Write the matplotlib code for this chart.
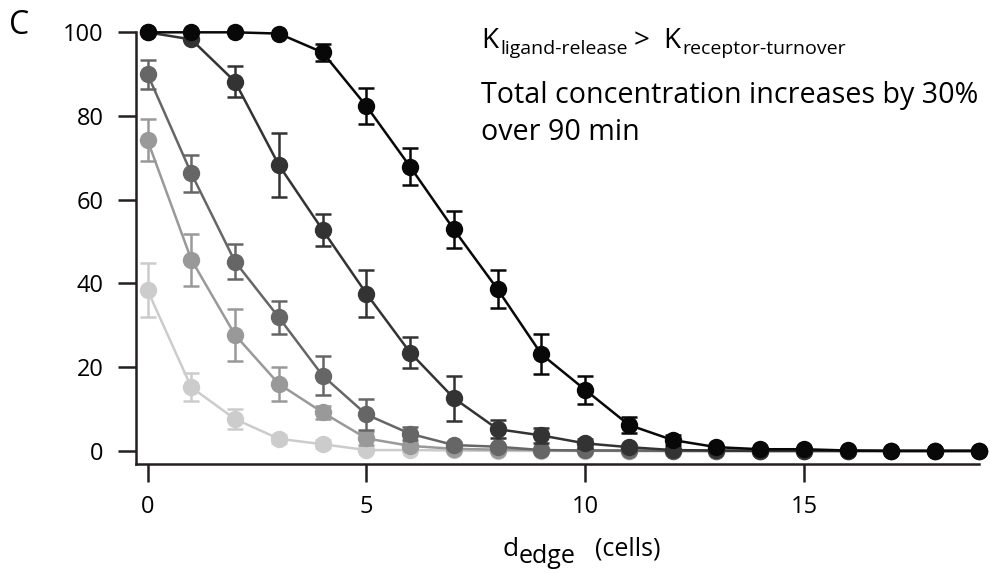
import numpy as np
import matplotlib
matplotlib.use('Agg')
import matplotlib.pyplot as plt

plt.rcParams['font.family'] = ['Open Sans', 'DejaVu Sans']

# distance from edge (cells)
d_edge = list(range(20))

# one series per condition, dark to light
black = [100, 100, 100, 99.7, 95.2, 82.4, 67.9, 52.9, 38.6, 23.1, 14.6, 6.2, 2.6, 0.9, 0.4, 0.4, 0.1, 0, 0, 0]
black_err = [0, 0, 0, 0, 2.0, 4.4, 4.4, 4.5, 4.5, 4.8, 3.3, 2.0, 1.3, 0, 0, 0, 0, 0, 0, 0]
dark = [100, 98.3, 88.2, 68.3, 52.8, 37.6, 23.5, 12.6, 5.2, 3.7, 1.8, 0.9, 0.2, 0.1, 0, 0, 0, 0, 0, 0]
dark_err = [0, 0, 3.7, 7.7, 3.9, 5.6, 3.8, 5.4, 2.2, 1.8, 1.0, 0.5, 0, 0, 0, 0, 0, 0, 0, 0]
mid = [90.0, 66.3, 45.2, 31.9, 18.0, 8.7, 4.1, 1.4, 1.0, 0.2, 0.1, 0.1, 0, 0, 0, 0, 0, 0, 0, 0]
mid_err = [3.5, 4.5, 4.2, 3.9, 4.6, 3.6, 1.5, 0.8, 0.5, 0, 0, 0, 0, 0, 0, 0, 0, 0, 0, 0]
light = [74.2, 45.7, 27.7, 16.0, 9.2, 3.0, 1.2, 0.5, 0.3, 0.2, 0.1, 0, 0, 0, 0, 0, 0, 0, 0, 0]
light_err = [5.0, 6.2, 6.3, 4.0, 1.5, 1.5, 0.8, 0, 0, 0, 0, 0, 0, 0, 0, 0, 0, 0, 0, 0]
lightest = [38.4, 15.2, 7.6, 2.9, 1.6, 0.2, 0.2, 0.1, 0, 0, 0, 0, 0, 0, 0, 0, 0, 0, 0, 0]
lightest_err = [6.4, 3.3, 2.3, 1.0, 1.0, 0, 0, 0, 0, 0, 0, 0, 0, 0, 0, 0, 0, 0, 0, 0]

series = [(lightest, lightest_err, '#cccccc'),
          (light, light_err, '#999999'),
          (mid, mid_err, '#666666'),
          (dark, dark_err, '#333333'),
          (black, black_err, '#080808')]

fig = plt.figure(figsize=(9.9, 5.74), dpi=100)
ax = fig.add_axes([0.1371, 0.1911, 0.9889 - 0.1371, 0.9437 - 0.1911])

x = np.array(d_edge)
for vals, errs, col in series:
    vals = np.array(vals, dtype=float)
    errs = np.array(errs, dtype=float)
    has_err = errs > 0
    ax.errorbar(x[has_err], vals[has_err], yerr=errs[has_err], fmt='none',
                ecolor=col, elinewidth=1.8, capsize=5.8, capthick=1.8, clip_on=False)
    ax.plot(x, vals, '-o', color=col, lw=1.8, ms=11.5, clip_on=False)

ax.set_xlim(-0.27, 19)
ax.set_ylim(-3.2, 100)
ax.set_xticks([0, 5, 10, 15])
ax.set_yticks([0, 20, 40, 60, 80, 100])
for s in ['top', 'right']:
    ax.spines[s].set_visible(False)
for s in ['left', 'bottom']:
    ax.spines[s].set_linewidth(1.8)
    ax.spines[s].set_color('#231f20')
ax.tick_params(axis='both', length=13, width=1.8, color='#231f20', labelsize=17)
ax.tick_params(axis='x', pad=9)
ax.tick_params(axis='y', pad=10)

def px(xp, yp):
    return xp / 990, 1 - yp / 574

fig.text(*px(9, 34), 'C', fontsize=23, ha='left', va='baseline')

# annotation, pieced together so the subscripts keep their size
fig.text(*px(481, 48), 'K', fontsize=20, ha='left', va='baseline')
fig.text(*px(500, 54), 'ligand-release', fontsize=14, ha='left', va='baseline')
fig.text(*px(634, 48), '>', fontsize=20, ha='left', va='baseline')
fig.text(*px(663, 48), 'K', fontsize=20, ha='left', va='baseline')
fig.text(*px(682, 54), 'receptor-turnover', fontsize=14, ha='left', va='baseline')
fig.text(*px(481, 103), 'Total concentration increases by 30%', fontsize=20.6, ha='left', va='baseline')
fig.text(*px(481, 140), 'over 90 min', fontsize=20.6, ha='left', va='baseline')

# x label
fig.text(*px(502, 556), 'd', fontsize=19, ha='left', va='baseline')
fig.text(*px(519, 563), 'edge', fontsize=18, ha='left', va='baseline')
fig.text(*px(595, 556), '(cells)', fontsize=18, ha='left', va='baseline')

fig.savefig('out.png', dpi=100)
